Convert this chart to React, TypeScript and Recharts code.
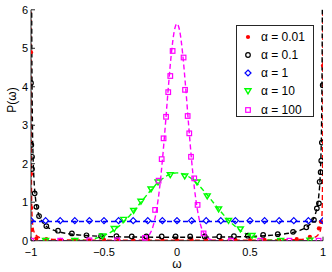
import { ComposedChart, Line, XAxis, YAxis } from 'recharts';

type Pt = [number, number];

const xTicks = [-1, -0.5, 0, 0.5, 1];
const yTicks = [0, 1, 2, 3, 4, 5, 6];
const alphaLabels = ['α = 0.01', 'α = 0.1', 'α = 1', 'α = 10', 'α = 100'];

const pts001: Pt[] = [
  [-1, 4.9], [-0.999, 1.73], [-0.998, 0.85], [-0.993, 0.28], [-0.963, 0.06], [-0.895, 0.04],
  [-0.8, 0.02], [-0.7, 0.02], [-0.6, 0.01], [-0.5, 0.02], [-0.4, 0.01], [-0.3, 0.01], [-0.2, 0.02],
  [-0.1, 0.01], [0, 0.01], [0.1, 0.02], [0.2, 0.01], [0.3, 0.01], [0.4, 0.02], [0.5, 0.01],
  [0.6, 0.02], [0.7, 0.02], [0.82, 0.04], [0.91, 0.1], [0.972, 0.32], [0.985, 0.49], [1, 4.55],
];
const pts01: Pt[] = [
  [-1, 4.1], [-0.998, 2.49], [-0.993, 2.18], [-0.993, 1.86], [-0.975, 1.23], [-0.963, 0.88],
  [-0.945, 0.64], [-0.895, 0.38], [-0.815, 0.26], [-0.72, 0.19], [-0.62, 0.14], [-0.52, 0.12],
  [-0.415, 0.12], [-0.31, 0.11], [-0.21, 0.11], [-0.105, 0.11], [-0.01, 0.11], [0.09, 0.11],
  [0.19, 0.11], [0.29, 0.11], [0.39, 0.12], [0.485, 0.13], [0.59, 0.15], [0.69, 0.17],
  [0.795, 0.23], [0.886, 0.35], [0.938, 0.54], [0.958, 0.84], [0.972, 0.97], [0.977, 1.53],
  [0.984, 1.78], [0.988, 2.08], [0.992, 2.55], [0.998, 4.04],
];
const pts1: Pt[] = [
  [-1, 0.52], [-0.9, 0.52], [-0.8, 0.52], [-0.7, 0.52], [-0.6, 0.52], [-0.5, 0.52], [-0.4, 0.52],
  [-0.3, 0.52], [-0.2, 0.52], [-0.1, 0.52], [0, 0.52], [0.1, 0.52], [0.2, 0.52], [0.3, 0.52],
  [0.4, 0.52], [0.5, 0.52], [0.6, 0.52], [0.7, 0.52], [0.8, 0.52], [0.9, 0.52], [1, 0.52],
];
const pts10: Pt[] = [
  [-0.9, 0], [-0.7, 0], [-0.51, 0.12], [-0.43, 0.31], [-0.365, 0.55], [-0.297, 0.78],
  [-0.247, 1.02], [-0.178, 1.34], [-0.13, 1.52], [-0.046, 1.71], [0.053, 1.68], [0.137, 1.52],
  [0.207, 1.16], [0.285, 0.82], [0.353, 0.52], [0.434, 0.3], [0.514, 0.13], [0.71, 0], [0.91, 0.01],
];
const pts100: Pt[] = [
  [-1, 0], [-0.8, 0], [-0.6, 0.01], [-0.41, 0.01], [-0.22, 0.07], [-0.15, 0.8], [-0.126, 1.56],
  [-0.105, 2.12], [-0.092, 2.66], [-0.075, 3.22], [-0.06, 3.86], [-0.046, 4.28], [-0.03, 4.93],
  [0.045, 4.76], [0.055, 3.92], [0.073, 3.24], [0.084, 2.79], [0.096, 2.18], [0.118, 1.62],
  [0.141, 0.93], [0.182, 0.19], [0.37, 0], [0.57, 0], [0.77, 0], [0.97, 0],
];

// dashed reference curves
const curve001: Pt[] = [
  [-0.9999, 23], [-0.9995, 9.2], [-0.999, 4.63], [-0.998, 2.33], [-0.995, 0.94], [-0.99, 0.48],
  [-0.98, 0.24], [-0.95, 0.1], [-0.9, 0.05], [-0.8, 0.027], [-0.6, 0.015], [-0.4, 0.012],
  [-0.2, 0.01], [0, 0.01], [0.2, 0.01], [0.4, 0.012], [0.6, 0.015], [0.8, 0.027], [0.9, 0.05],
  [0.95, 0.1], [0.98, 0.24], [0.99, 0.48], [0.995, 0.94], [0.998, 2.33], [0.999, 4.63],
  [0.9995, 9.2], [0.9999, 23],
];
const curve01: Pt[] = [
  [-0.9999, 50], [-0.999, 23.7], [-0.998, 12.7], [-0.995, 5.58], [-0.99, 3.0], [-0.985, 2.09],
  [-0.98, 1.62], [-0.97, 1.13], [-0.96, 0.87], [-0.95, 0.72], [-0.925, 0.5], [-0.9, 0.39],
  [-0.85, 0.28], [-0.8, 0.22], [-0.7, 0.16], [-0.6, 0.13], [-0.5, 0.11], [-0.4, 0.1],
  [-0.3, 0.096], [-0.2, 0.092], [-0.1, 0.089], [0, 0.088], [0.1, 0.089], [0.2, 0.092],
  [0.3, 0.096], [0.4, 0.1], [0.5, 0.11], [0.6, 0.13], [0.7, 0.16], [0.8, 0.22], [0.85, 0.28],
  [0.9, 0.39], [0.925, 0.5], [0.95, 0.72], [0.96, 0.87], [0.97, 1.13], [0.98, 1.62],
  [0.985, 2.09], [0.99, 3.0], [0.995, 5.58], [0.998, 12.7], [0.999, 23.7], [0.9999, 50],
];
const curve1: Pt[] = [[-1, 0.5], [1, 0.5]];
const curve10: Pt[] = [
  [-1, 0], [-0.8, 0], [-0.7, 0.004], [-0.6, 0.032], [-0.55, 0.069], [-0.5, 0.132], [-0.45, 0.23],
  [-0.4, 0.367], [-0.35, 0.544], [-0.3, 0.754], [-0.25, 0.986], [-0.2, 1.22], [-0.15, 1.436],
  [-0.1, 1.61], [-0.05, 1.723], [0, 1.762], [0.05, 1.723], [0.1, 1.61], [0.15, 1.436], [0.2, 1.22],
  [0.25, 0.986], [0.3, 0.754], [0.35, 0.544], [0.4, 0.367], [0.45, 0.23], [0.5, 0.132],
  [0.55, 0.069], [0.6, 0.032], [0.7, 0.004], [0.8, 0], [1, 0],
];
const curve100: Pt[] = [
  [-1, 0], [-0.3, 0], [-0.25, 0.01], [-0.2, 0.1], [-0.18, 0.22], [-0.16, 0.43], [-0.14, 0.8],
  [-0.12, 1.34], [-0.1, 2.09], [-0.08, 2.99], [-0.06, 3.95], [-0.04, 4.81], [-0.02, 5.42],
  [0, 5.64], [0.02, 5.42], [0.04, 4.81], [0.06, 3.95], [0.08, 2.99], [0.1, 2.09], [0.12, 1.34],
  [0.14, 0.8], [0.16, 0.43], [0.18, 0.22], [0.2, 0.1], [0.25, 0.01], [0.3, 0], [1, 0],
];

const rows = (p: Pt[]) => p.map(([x, y]) => ({ x, y }));

type Kind = 'dot' | 'circle' | 'diamond' | 'tri' | 'square';
const SERIES: { pts: Pt[]; curve: Pt[]; color: string; kind: Kind }[] = [
  { pts: pts001, curve: curve001, color: '#ff0000', kind: 'dot' },
  { pts: pts01, curve: curve01, color: '#000000', kind: 'circle' },
  { pts: pts1, curve: curve1, color: '#0000ff', kind: 'diamond' },
  { pts: pts10, curve: curve10, color: '#00ff00', kind: 'tri' },
  { pts: pts100, curve: curve100, color: '#ff00ff', kind: 'square' },
];

const FONT = '"Liberation Sans", Arial, sans-serif';
const AXIS = '#262626';

function Marker({ kind, cx, cy, color }: { kind: Kind; cx: number; cy: number; color: string }) {
  const sw = 1.2;
  switch (kind) {
    case 'dot':
      return <circle cx={cx} cy={cy} r={2.1} fill={color} />;
    case 'circle':
      return <circle cx={cx} cy={cy} r={2.3} fill="none" stroke={color} strokeWidth={sw} />;
    case 'diamond':
      return (
        <polygon
          points={`${cx},${cy - 3} ${cx + 3},${cy} ${cx},${cy + 3} ${cx - 3},${cy}`}
          fill="none"
          stroke={color}
          strokeWidth={sw}
        />
      );
    case 'tri':
      return (
        <polygon
          points={`${cx - 3},${cy - 2.2} ${cx + 3},${cy - 2.2} ${cx},${cy + 2.8}`}
          fill="none"
          stroke={color}
          strokeWidth={1.4}
        />
      );
    default:
      return <rect x={cx - 2.3} y={cy - 2.3} width={4.6} height={4.6} fill="none" stroke={color} strokeWidth={sw} />;
  }
}

const fmtX = (v: number) => (v < 0 ? `−${Math.abs(v)}` : `${v}`);

export default function App() {
  return (
    <div style={{ position: 'absolute', left: 0, top: 0, width: 332, height: 272, background: '#fff' }}>
      <ComposedChart width={332} height={272} margin={{ top: 9.8, right: 9, bottom: 0, left: 0 }}>
        <XAxis
          xAxisId="b"
          dataKey="x"
          type="number"
          domain={[-1, 1]}
          ticks={xTicks}
          allowDataOverflow
          height={31.3}
          tickFormatter={fmtX}
          tickSize={-4}
          tickMargin={11}
          stroke={AXIS}
          tick={{ fill: '#000', fontSize: 11, fontFamily: FONT }}
        />
        <XAxis
          xAxisId="t"
          orientation="top"
          dataKey="x"
          type="number"
          domain={[-1, 1]}
          ticks={xTicks}
          allowDataOverflow
          height={0}
          tick={false}
          tickSize={-4}
          stroke={AXIS}
        />
        <YAxis
          yAxisId="l"
          dataKey="y"
          type="number"
          domain={[0, 6]}
          ticks={yTicks}
          allowDataOverflow
          width={31}
          tickSize={-4}
          tickMargin={7}
          stroke={AXIS}
          tick={{ fill: '#000', fontSize: 11, fontFamily: FONT }}
        />
        <YAxis
          yAxisId="r"
          orientation="right"
          dataKey="y"
          type="number"
          domain={[0, 6]}
          ticks={yTicks}
          allowDataOverflow
          width={0}
          tick={false}
          tickSize={-4}
          stroke={AXIS}
        />
        <Line
          xAxisId="t"
          yAxisId="r"
          data={rows([[0, -1]])}
          dataKey="y"
          stroke="none"
          dot={false}
          isAnimationActive={false}
        />
        {SERIES.map((s, i) => (
          <Line
            key={`m${i}`}
            xAxisId="b"
            yAxisId="l"
            data={rows(s.pts)}
            dataKey="y"
            stroke="none"
            isAnimationActive={false}
            dot={(p: any) => <Marker key={p.index} kind={s.kind} cx={p.cx} cy={p.cy} color={s.color} />}
            activeDot={false}
          />
        ))}
        {SERIES.map((s, i) => (
          <Line
            key={`c${i}`}
            xAxisId="b"
            yAxisId="l"
            data={rows(s.curve)}
            dataKey="y"
            type="monotone"
            stroke={s.color}
            strokeWidth={1.4}
            strokeDasharray="5 3"
            dot={false}
            activeDot={false}
            isAnimationActive={false}
          />
        ))}
      </ComposedChart>
      <div
        style={{
          position: 'absolute',
          left: 12,
          top: 100,
          transform: 'translate(-50%, -50%) rotate(-90deg)',
          fontFamily: FONT,
          fontSize: 12,
          whiteSpace: 'nowrap',
        }}
      >
        P(ω)
      </div>
      <div
        style={{
          position: 'absolute',
          left: 177,
          top: 264,
          transform: 'translate(-50%, -50%)',
          fontFamily: FONT,
          fontSize: 12,
        }}
      >
        ω
      </div>
      <div
        style={{
          position: 'absolute',
          left: 236,
          top: 25,
          width: 78,
          height: 92,
          border: `1px solid ${AXIS}`,
          background: '#fff',
          boxSizing: 'border-box',
        }}
      >
        {SERIES.map((s, i) => (
          <div
            key={i}
            style={{
              position: 'absolute',
              left: 0,
              top: 10.7 + i * 18.2 - 9,
              height: 18,
              display: 'flex',
              alignItems: 'center',
            }}
          >
            <svg width={22} height={18} style={{ display: 'block' }}>
              <Marker kind={s.kind} cx={11} cy={9} color={s.color} />
            </svg>
            <span style={{ fontFamily: FONT, fontSize: 12, color: '#000', marginLeft: 2, whiteSpace: 'nowrap' }}>
              {alphaLabels[i]}
            </span>
          </div>
        ))}
      </div>
    </div>
  );
}
